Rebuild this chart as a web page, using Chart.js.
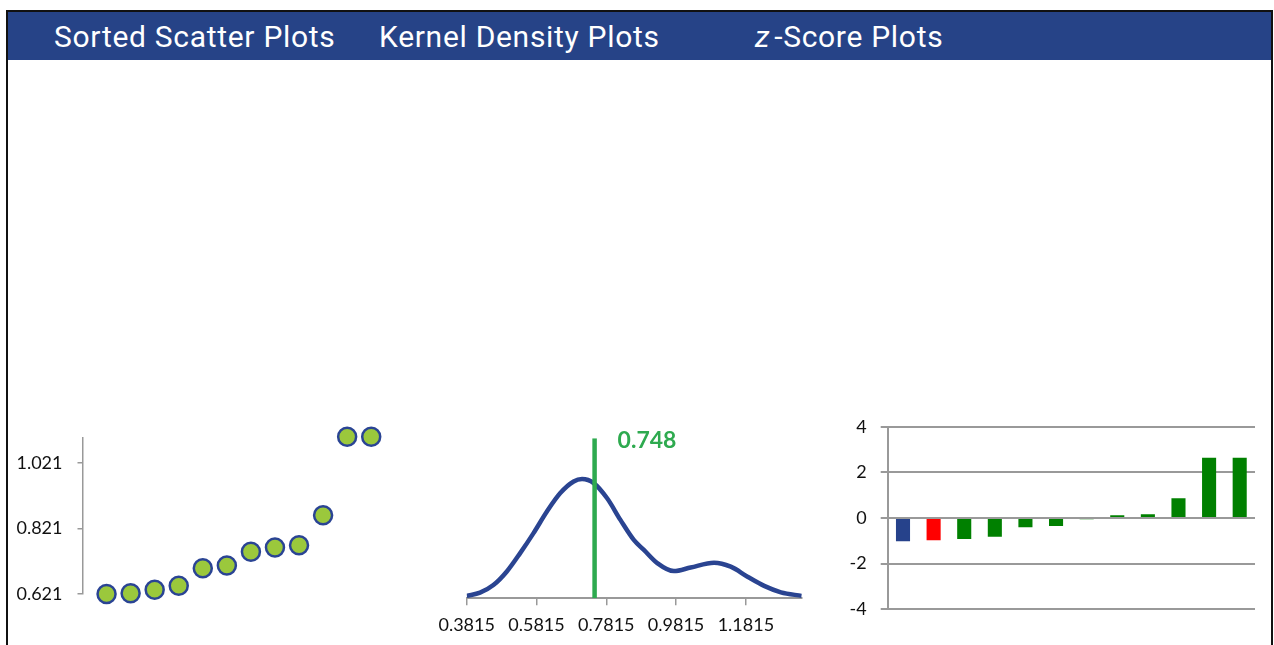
<!DOCTYPE html>
<html lang="en">
<head>
  <meta charset="UTF-8" />
  <title>Sorted Scatter, Kernel Density and z-Score Plots</title>
  <script src="https://cdn.jsdelivr.net/npm/chart.js"></script>
  <style>
    body {
      margin: 0;
      width: 1274px;
      height: 645px;
      overflow: hidden;
      background: #fff;
      position: relative;
      font-family: Lato, sans-serif;
    }
    .frame {
      position: absolute;
      left: 6px;
      top: 10px;
      width: 1263px;
      height: 700px;
      border: 2px solid #111;
      z-index: 5;
      pointer-events: none;
    }
    .header {
      position: absolute;
      left: 8px;
      top: 12px;
      width: 1263px;
      height: 48px;
      background: #264387;
    }
    .title {
      position: absolute;
      top: 13px;
      line-height: 48px;
      color: #fff;
      font-family: Roboto, sans-serif;
      font-size: 30px;
      letter-spacing: 0.7px;
      white-space: nowrap;
    }
    .box { position: absolute; }
  </style>
</head>
<body>
  <div class="header"></div>
  <div class="title" style="left:54px">Sorted Scatter Plots</div>
  <div class="title" style="left:379px">Kernel Density Plots</div>
  <div class="title" style="left:755px"><i>z</i><span style="margin-left:4px">-Score Plots</span></div>
  <div class="frame"></div>

  <div class="box" style="left:0;top:420px;width:420px;height:225px"><canvas id="scatterChart"></canvas></div>
  <div class="box" style="left:420px;top:420px;width:400px;height:225px"><canvas id="kdeChart"></canvas></div>
  <div class="box" style="left:820px;top:410px;width:454px;height:235px"><canvas id="zChart"></canvas></div>

  <script>
    // sorted scatter
    const rankIdx = [1, 2, 3, 4, 5, 6, 7, 8, 9, 10, 11, 12];
    const sortedValues = [0.621, 0.623, 0.634, 0.646, 0.700, 0.708, 0.750, 0.763, 0.770, 0.862, 1.102, 1.102];
    const scatterTicks = [0.621, 0.821, 1.021];

    // kernel density
    const kdeX = [0.3815, 0.4197, 0.458, 0.4965, 0.5347, 0.573, 0.6114, 0.6497, 0.688, 0.712, 0.7454, 0.7839,
                  0.822, 0.8603, 0.8892, 0.9276, 0.9753, 1.0233, 1.0902, 1.1382, 1.1862, 1.2339, 1.2819, 1.3415];
    const kdeY = [0.06, 0.14, 0.33, 0.67, 1.13, 1.63, 2.17, 2.63, 2.92, 2.98, 2.88, 2.50,
                  1.96, 1.46, 1.21, 0.88, 0.68, 0.77, 0.89, 0.79, 0.54, 0.31, 0.15, 0.06];
    const markerValue = 0.748;
    const kdeTicks = [0.3815, 0.5815, 0.7815, 0.9815, 1.1815];

    // z-scores
    const zLabels = ['1', '2', '3', '4', '5', '6', '7', '8', '9', '10', '11', '12'];
    const zScores = [-1.02, -0.98, -0.92, -0.82, -0.40, -0.35, -0.05, 0.12, 0.16, 0.86, 2.64, 2.64];
    const barColors = ['#26428B', '#FF0000', '#008000', '#008000', '#008000', '#008000',
                       '#008000', '#008000', '#008000', '#008000', '#008000', '#008000'];

    const tickFont = { family: 'Lato, sans-serif', size: 18 };
    const axisGray = '#999';

    // keep chart area exactly where layout padding puts it
    const noPad = s => { s.paddingTop = 0; s.paddingBottom = 0; s.paddingLeft = 0; s.paddingRight = 0; };

    new Chart(document.getElementById('scatterChart'), {
      type: 'scatter',
      data: {
        datasets: [{
          data: rankIdx.map((r, i) => ({ x: r, y: sortedValues[i] })),
          backgroundColor: '#9BC83C',
          borderColor: '#2A4494',
          borderWidth: 2.5,
          pointRadius: 9,
          pointHoverRadius: 9,
          clip: false
        }]
      },
      options: {
        responsive: true,
        maintainAspectRatio: false,
        animation: false,
        layout: { padding: { top: 18, bottom: 51, left: 0, right: 0 } },
        plugins: { legend: { display: false }, tooltip: { enabled: false } },
        scales: {
          x: { type: 'linear', min: 0, max: 13.55, display: false },
          y: {
            min: 0.621,
            max: 1.098,
            afterFit: s => { s.width = 82.5; noPad(s); },
            afterBuildTicks: s => { s.ticks = scatterTicks.map(v => ({ value: v })); },
            ticks: { font: tickFont, color: '#111', padding: 15, callback: v => v.toFixed(3) },
            grid: { drawOnChartArea: false, drawTicks: true, tickLength: 5, color: axisGray, lineWidth: 1.5 },
            border: { color: axisGray, width: 1.5 }
          }
        }
      }
    });

    const markerLabel = {
      id: 'markerLabel',
      afterDatasetsDraw(chart) {
        const { ctx, scales } = chart;
        const x = scales.x.getPixelForValue(markerValue) + 23;
        const y = scales.y.top + 2;
        ctx.save();
        ctx.font = 'bold 23px Lato, sans-serif';
        ctx.fillStyle = '#2EAA4F';
        ctx.textBaseline = 'middle';
        ctx.fillText(markerValue.toFixed(3), x, y);
        ctx.restore();
      }
    };

    new Chart(document.getElementById('kdeChart'), {
      type: 'line',
      data: {
        datasets: [
          {
            data: [{ x: markerValue, y: 0 }, { x: markerValue, y: 4 }],
            borderColor: '#2EAA4F',
            borderWidth: 4.5,
            pointRadius: 0
          },
          {
            data: kdeX.map((x, i) => ({ x: x, y: kdeY[i] })),
            borderColor: '#2A4491',
            borderWidth: 4.5,
            pointRadius: 0,
            tension: 0.4,
            cubicInterpolationMode: 'monotone'
          }
        ]
      },
      options: {
        responsive: true,
        maintainAspectRatio: false,
        animation: false,
        layout: { padding: { top: 18.3, bottom: 6.7, left: 46.7, right: 18.3 } },
        plugins: { legend: { display: false }, tooltip: { enabled: false } },
        scales: {
          x: {
            type: 'linear',
            min: 0.3815,
            max: 1.3415,
            afterFit: s => { s.height = 40; noPad(s); },
            afterBuildTicks: s => { s.ticks = kdeTicks.map(v => ({ value: v })); },
            ticks: { font: tickFont, color: '#111', padding: 9, maxRotation: 0, callback: v => v.toFixed(4) },
            grid: { drawOnChartArea: false, drawTicks: true, tickLength: 7, color: axisGray, lineWidth: 1.5 },
            border: { color: axisGray, width: 2 }
          },
          y: { min: 0, max: 4, display: false }
        }
      },
      plugins: [markerLabel]
    });

    new Chart(document.getElementById('zChart'), {
      type: 'bar',
      data: {
        labels: zLabels,
        datasets: [{
          data: zScores,
          backgroundColor: barColors,
          barPercentage: 0.46,
          categoryPercentage: 1
        }]
      },
      options: {
        responsive: true,
        maintainAspectRatio: false,
        animation: false,
        layout: { padding: { top: 16.7, bottom: 35.7, left: 0, right: 19 } },
        plugins: { legend: { display: false }, tooltip: { enabled: false } },
        scales: {
          x: { display: false },
          y: {
            min: -4,
            max: 4,
            afterFit: s => { s.width = 67.7; noPad(s); },
            ticks: { stepSize: 2, font: tickFont, color: '#111', padding: 14 },
            grid: { color: axisGray, lineWidth: 2, tickLength: 7 },
            border: { color: axisGray, width: 2 }
          }
        }
      }
    });
  </script>
</body>
</html>
